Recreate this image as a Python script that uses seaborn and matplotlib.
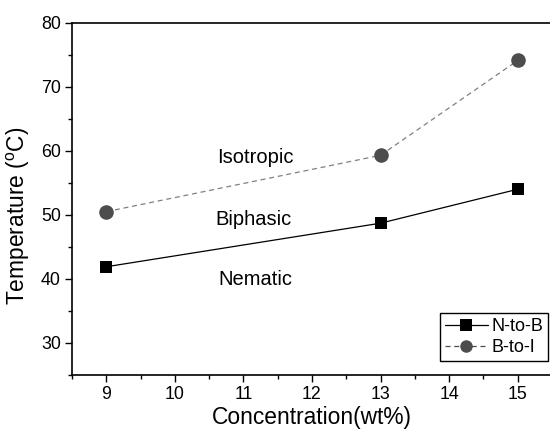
import pandas as pd
import seaborn as sns
import matplotlib.pyplot as plt
from matplotlib.ticker import MultipleLocator

# data
concentration = [9, 13, 15]
n_to_b = [41.9, 48.7, 54.0]
b_to_i = [50.5, 59.3, 74.1]
series_names = ['N-to-B', 'B-to-I']

phase_labels = ['Isotropic', 'Biphasic', 'Nematic']
phase_x = [10.62, 10.59, 10.64]
phase_y = [58.9, 49.2, 39.9]

sns.set_style('ticks')
plt.rcParams['font.family'] = ['Liberation Sans', 'DejaVu Sans']
plt.rcParams['mathtext.fontset'] = 'custom'
plt.rcParams['mathtext.rm'] = 'Liberation Sans'
plt.rcParams['text.color'] = 'black'
plt.rcParams['axes.labelcolor'] = 'black'
plt.rcParams['xtick.color'] = 'black'
plt.rcParams['ytick.color'] = 'black'

df = pd.DataFrame({
    'Concentration': concentration * 2,
    'Temperature': n_to_b + b_to_i,
    'Transition': [series_names[0]] * 3 + [series_names[1]] * 3,
})

fig = plt.figure(figsize=(5.5, 4.32), dpi=100)
ax = fig.add_axes([0.1309, 0.1319, 0.8727, 0.8156])

sns.lineplot(data=df, x='Concentration', y='Temperature', hue='Transition',
             style='Transition',
             palette={'N-to-B': 'black', 'B-to-I': '#4d4d4d'},
             markers={'N-to-B': 's', 'B-to-I': 'o'},
             dashes={'N-to-B': '', 'B-to-I': (4, 3)},
             markersize=9, markeredgewidth=0, linewidth=0.9, ax=ax)

# dashed connector is lighter than its markers
ax.lines[1].set_color('#808080')
ax.lines[1].set_markerfacecolor('#4d4d4d')
ax.lines[1].set_markeredgecolor('#4d4d4d')
ax.lines[1].set_markersize(10.5)

for lab, x, y in zip(phase_labels, phase_x, phase_y):
    ax.text(x, y, lab, fontsize=14.5, ha='left', va='center', color='black')

ax.set_xlim(8.5, 15.5)
ax.set_ylim(25, 80)
ax.xaxis.set_minor_locator(MultipleLocator(0.5))
ax.yaxis.set_minor_locator(MultipleLocator(5))
ax.set_yticks([30, 40, 50, 60, 70, 80])
ax.set_xticks([9, 10, 11, 12, 13, 14, 15])

ax.tick_params(axis='both', which='major', direction='out', length=5, width=1,
               labelsize=12.8, color='black', labelcolor='black', pad=3)
ax.tick_params(axis='both', which='minor', direction='out', length=3, width=1,
               color='black')
for sp in ['left', 'bottom', 'top']:
    ax.spines[sp].set_linewidth(1.2)
    ax.spines[sp].set_color('black')
ax.spines['right'].set_visible(False)

ax.set_xlabel('Concentration(wt%)', fontsize=16.4, labelpad=2, color='black')
ax.set_ylabel(r'Temperature ($\mathregular{^o}$C)', fontsize=16.4, color='black')
ax.yaxis.set_label_coords(-0.083, 0.453)

leg = ax.legend(loc='lower right', bbox_to_anchor=(0.992, 0.04), fontsize=13,
                frameon=True, fancybox=False, handlelength=2.4,
                handletextpad=0.2, borderpad=0.25, labelspacing=0.25,
                borderaxespad=0)
leg.get_frame().set_edgecolor('black')
leg.get_frame().set_linewidth(1)
leg.get_frame().set_alpha(1)
for t in leg.get_texts():
    t.set_color('black')

fig.savefig('out.png', dpi=100)
